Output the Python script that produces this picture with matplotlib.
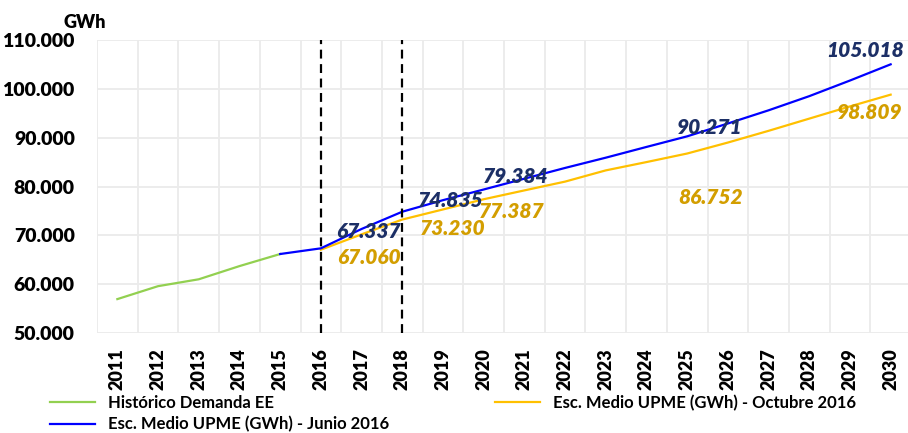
import matplotlib
matplotlib.use("Agg")
import matplotlib.pyplot as plt
from matplotlib.ticker import FuncFormatter, FixedLocator

plt.rcParams['font.family'] = ['Lato', 'DejaVu Sans']

# datos (GWh)
years = [str(y) for y in range(2011, 2031)]
historico = [56940, 59590, 61000, 63700, 66174]          # 2011-2015
junio_2016 = [66174, 67337, 71300, 74835, 77200, 79384, 81600, 83800,
              85900, 88100, 90271, 92900, 95600, 98500, 101700, 105018]  # 2015-2030
octubre_2016 = [67060, 70200, 73230, 75300, 77387, 79200, 81000, 83300,
                85000, 86752, 89000, 91400, 93900, 96400, 98809]  # 2016-2030

# etiquetas de datos: (indice del anio, valor, desplazamiento en pixeles)
junio_labels = [(5, 67337, (48, 17)), (7, 74835, (48, 11)), (9, 79384, (32, 13)),
                (14, 90271, (23, 9)), (19, 105018, (-26, 14))]
oct_labels = [(5, 67060, (48, -8)), (7, 73230, (50, -9)), (9, 77387, (28, -12)),
              (14, 86752, (23, -44)), (19, 98809, (-21, -18))]

fig = plt.figure(figsize=(9.08, 4.33), dpi=100)
ax = fig.add_axes([97/908, 100/433, 814/908, 293/433])

x_hist = list(range(0, 5))
x_jun = list(range(4, 20))
x_oct = list(range(5, 20))

l1, = ax.plot(x_hist, historico, color='#92d050', lw=1.6, label='Histórico Demanda EE')
l3, = ax.plot(x_oct, octubre_2016, color='#ffc000', lw=1.6,
              label='Esc. Medio UPME (GWh) - Octubre 2016')
l2, = ax.plot(x_jun, junio_2016, color='#0000ff', lw=1.6,
              label='Esc. Medio UPME (GWh) - Junio 2016')

for xv in [5, 7]:
    ax.axvline(xv, color='black', lw=1.6, ls=(0, (4, 2.5)), zorder=3)

def fmt(v):
    return f"{v:,.0f}".replace(",", ".")

for i, v, off in junio_labels:
    ax.annotate(fmt(v), (i, v), xytext=off, textcoords='offset pixels',
                ha='center', va='center', fontsize=15, fontweight='heavy',
                fontstyle='italic', color='#1c2f66', zorder=5)
for i, v, off in oct_labels:
    ax.annotate(fmt(v), (i, v), xytext=off, textcoords='offset pixels',
                ha='center', va='center', fontsize=15, fontweight='heavy',
                fontstyle='italic', color='#d39e00', zorder=5)

ax.set_xlim(-0.5, 19.5)
ax.set_ylim(50000, 110000)
ax.set_xticks(range(20))
ax.set_xticklabels(years, rotation=90, fontsize=13, fontweight='heavy')
ax.xaxis.set_minor_locator(FixedLocator([i - 0.5 for i in range(21)]))
ax.set_yticks(range(50000, 110001, 10000))
ax.yaxis.set_major_formatter(FuncFormatter(lambda v, p: fmt(v)))
for t in ax.get_yticklabels():
    t.set_fontsize(14)
    t.set_fontweight('heavy')
ax.tick_params(axis='x', which='both', length=0, pad=11)
ax.tick_params(axis='y', length=0, pad=16)
ax.grid(axis='y', which='major', color='#ebebeb', lw=1.3)
ax.grid(axis='x', which='minor', color='#ebebeb', lw=1.3)
for s in ax.spines.values():
    s.set_visible(False)

fig.text(63/908, 1 - 22/433, 'GWh', fontsize=13, fontweight='heavy', va='center')

fig.legend(handles=[l1, l2, l3], loc='upper left', bbox_to_anchor=(50/908, 1 - 395/433),
           ncol=2, frameon=False, borderpad=0, borderaxespad=0,
           handlelength=2.7, handletextpad=0.75, labelspacing=0.3, columnspacing=6.4,
           prop={'weight': 'bold', 'size': 12})

fig.savefig('out.png', dpi=100)
